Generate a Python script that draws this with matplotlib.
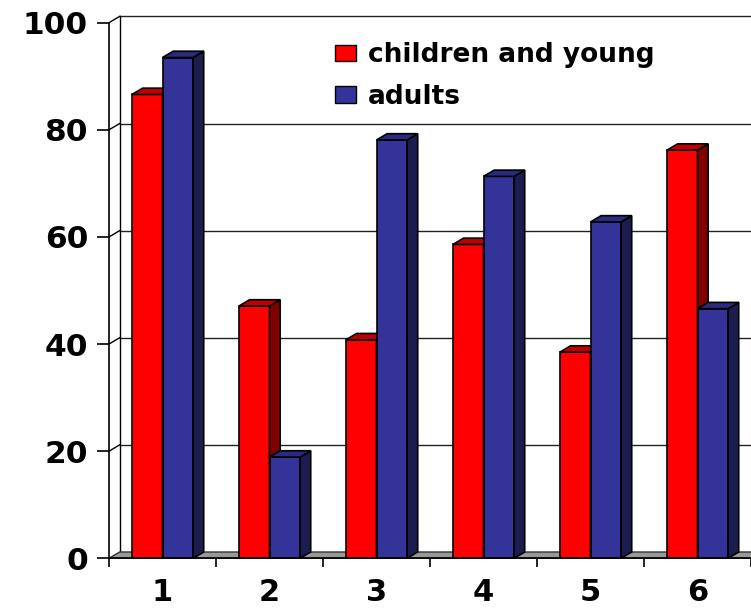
import matplotlib
matplotlib.use("Agg")
import matplotlib.pyplot as plt
from matplotlib.patches import Polygon, Patch

categories = ['1', '2', '3', '4', '5', '6']
children = [86.6, 47.1, 40.8, 58.6, 38.5, 76.2]
adults = [93.5, 18.9, 78.1, 71.3, 62.8, 46.6]
series_names = ['children and young', 'adults']
yticks = [0, 20, 40, 60, 80, 100]

W, H, DPI = 751, 608, 100
fig = plt.figure(figsize=(W / DPI, H / DPI), dpi=DPI)
fig.patch.set_facecolor('white')

# front plane geometry (pixels)
x_left_px, y0_px, y100_px = 109.0, 558.3, 22.7
cat_px = 108.5
ax = fig.add_axes([x_left_px / W, (H - y0_px) / H, 1 - x_left_px / W, (y0_px - y100_px) / H])
xmin = 0.5
xmax = 0.5 + (W - x_left_px) / cat_px
ax.set_xlim(xmin, xmax)
ax.set_ylim(0, 100)
ax.patch.set_alpha(0)

# depth offset in data units
px_per_y = (y0_px - y100_px) / 100.0
dx = 10.8 / cat_px
dy = 6.3 / px_per_y

# back wall
for v in yticks[1:]:
    ax.plot([xmin + dx, xmax + 0.5], [v + dy, v + dy], color='#222222', lw=1.0,
            clip_on=False, zorder=0.5)
    ax.plot([xmin, xmin + dx], [v, v + dy], color='black', lw=1.0, clip_on=False, zorder=0.6)
ax.plot([xmin + dx, xmin + dx], [dy, 100 + dy], color='black', lw=1.0, clip_on=False, zorder=0.6)

# floor
floor = Polygon([(xmin, 0), (xmax + 0.5, 0), (xmax + 0.5 + dx, dy), (xmin + dx, dy)],
                closed=True, facecolor='#999999', edgecolor='#333333', lw=1.0,
                clip_on=False, zorder=1)
ax.add_patch(floor)

bw = 31.0 / cat_px
faces = {
    0: ('#FF0000', '#800000', '#C00000'),
    1: ('#333399', '#1C1C4E', '#2A2A7E'),
}
z = 2
for i in range(len(categories)):
    xc = i + 1
    for s, vals in enumerate([children, adults]):
        v = vals[i]
        front, side, top = faces[s]
        xl = xc - bw + s * bw
        xr = xl + bw
        ax.bar(xl, v, width=bw, align='edge', color=front, edgecolor='black',
               lw=1.2, zorder=z, clip_on=False)
        ax.add_patch(Polygon([(xr, 0), (xr + dx, dy), (xr + dx, v + dy), (xr, v)],
                             closed=True, facecolor=side, edgecolor='black', lw=1.2,
                             zorder=z + 0.1, clip_on=False))
        ax.add_patch(Polygon([(xl, v), (xr, v), (xr + dx, v + dy), (xl + dx, v + dy)],
                             closed=True, facecolor=top, edgecolor='black', lw=1.2,
                             zorder=z + 0.2, clip_on=False))
        z += 1

# axes
for sp in ['top', 'right']:
    ax.spines[sp].set_visible(False)
for sp in ['left', 'bottom']:
    ax.spines[sp].set_linewidth(1.2)
    ax.spines[sp].set_zorder(1.5)
ax.set_yticks(yticks)
ax.set_yticklabels([str(t) for t in yticks], fontsize=22.5, fontweight='bold',
                   family='DejaVu Sans')
ax.tick_params(axis='y', direction='out', length=8.6, width=1.2, pad=6.5)
ax.set_xticks(range(1, len(categories) + 1))
ax.set_xticklabels(categories, fontsize=22, fontweight='bold', family='DejaVu Sans')
ax.set_xticks([k + 0.5 for k in range(0, len(categories) + 1)], minor=True)
ax.tick_params(axis='x', which='major', length=0, pad=14)
ax.tick_params(axis='x', which='minor', direction='out', length=6.5, width=1.2)

fs = 19
fs_px = fs * DPI / 72.0
handles = [Patch(facecolor=faces[0][0], edgecolor='black', lw=1.0),
           Patch(facecolor=faces[1][0], edgecolor='black', lw=1.0)]
leg = fig.legend(handles, series_names, loc='upper left',
                 bbox_to_anchor=(335 / W, 1 - 42 / H), frameon=False,
                 prop={'family': 'DejaVu Sans', 'weight': 'bold', 'size': fs},
                 handlelength=21 / fs_px, handleheight=15 / fs_px,
                 handletextpad=12 / fs_px,
                 labelspacing=0.6, borderpad=0, borderaxespad=0)

fig.savefig('out.png', dpi=DPI)
